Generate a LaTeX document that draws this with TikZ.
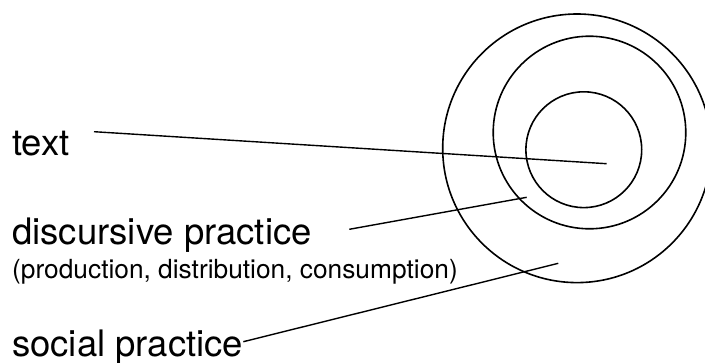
\documentclass[tikz,border=0pt]{standalone}
\usepackage{fontspec}
\setmainfont{TeX Gyre Heros}
\begin{document}
\begin{tikzpicture}[x=1pt,y=-1pt,
  ring/.style={circle, draw, line width=1.6pt, inner sep=0pt},
  leader/.style={line width=1.4pt},
  maintext/.style={anchor=base west, inner sep=0pt, font=\fontsize{36.5}{40}\selectfont},
  subtext/.style={anchor=base west, inner sep=0pt, font=\fontsize{26.3}{30}\selectfont}]
\useasboundingbox (0,0) rectangle (705,362);
\clip (0,0) rectangle (705,362);

% three nested practice rings
\node[ring, minimum size=268.6pt] (socialring) at (577,148.3) {};
\node[ring, minimum size=192.6pt] (discring) at (589.5,132.5) {};
\node[ring, minimum size=115.8pt] (textring) at (583.8,149.7) {};

% labels
\node[maintext] (ltext) at (12,155) {text};
\node[maintext] (ldisc) at (12,244) {discursive practice};
\node[subtext] (lsub) at (12,278) {(production, distribution, consumption)};
\node[maintext] (lsocial) at (12,356.7) {social practice};

% leader line end points
\coordinate (tA) at (94,131.7);
\coordinate (tB) at (606.7,163.7);
\coordinate (dA) at (349.3,229.3);
\coordinate (dB) at (526.7,197.3);
\coordinate (sA) at (243.3,341.7);
\coordinate (sB) at (558.3,263.3);

\draw[leader] (tA) -- (tB);
\draw[leader] (dA) -- (dB);
\draw[leader] (sA) -- (sB);
\end{tikzpicture}
\end{document}
